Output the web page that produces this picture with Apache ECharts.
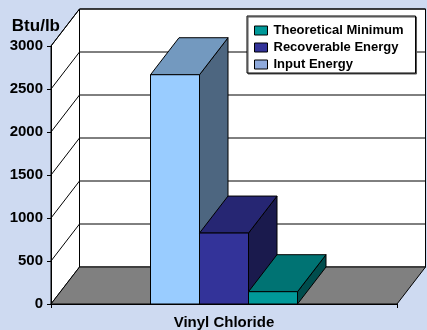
<!DOCTYPE html>
<html>
<head>
<meta charset="utf-8">
<script src="https://cdn.jsdelivr.net/npm/echarts@6/dist/echarts.min.js"></script>
<style>
	html, body { margin: 0; padding: 0; background: #CEDAF1; }
	#chart { width: 427px; height: 330px; }
</style>
</head>
<body>
<div id="chart"></div>
<script type="text/javascript">
	var categories = ['Vinyl Chloride'];
	var yTicks = [0, 500, 1000, 1500, 2000, 2500, 3000];
	var inputEnergy = [2666];
	var recoverableEnergy = [825];
	var theoreticalMinimum = [143];

	// fake 3d: how far the back plane sits from the front plane
	var depthX = 28.5;
	var depthY = 37;
	var barWidth = 49;

	var myChart = echarts.init(document.getElementById('chart'));

	function poly(points, fill) {
		return {
			type: 'polygon',
			shape: { points: points },
			style: { fill: fill, stroke: '#000', lineWidth: 1 }
		};
	}

	// walls, floor and the grid lines running round them
	function renderWalls(params, api) {
		var x0 = params.coordSys.x;
		var x1 = x0 + params.coordSys.width;
		var y0 = api.coord([0, 0])[1];
		var yTop = api.coord([0, 3000])[1];
		var kids = [
			poly([[x0 + depthX, yTop - depthY], [x1 + depthX, yTop - depthY], [x1 + depthX, y0 - depthY], [x0 + depthX, y0 - depthY]], '#fff'),
			poly([[x0, yTop], [x0 + depthX, yTop - depthY], [x0 + depthX, y0 - depthY], [x0, y0]], '#fff'),
			poly([[x0, y0], [x0 + depthX, y0 - depthY], [x1 + depthX, y0 - depthY], [x1, y0]], '#808080')
		];
		yTicks.forEach(function (t) {
			if (t == 0) return;
			var y = api.coord([0, t])[1];
			kids.push({
				type: 'polyline',
				shape: { points: [[x0, y], [x0 + depthX, y - depthY], [x1 + depthX, y - depthY]] },
				style: { fill: null, stroke: '#000', lineWidth: 1 }
			});
		});
		return { type: 'group', children: kids };
	}

	// slot: -1 left, 0 middle, 1 right of the category centre
	function barRenderer(slot, front, top, side) {
		return function (params, api) {
			var p = api.coord([api.value(0), api.value(1)]);
			var y0 = api.coord([api.value(0), 0])[1];
			var l = p[0] + (slot - 0.5) * barWidth;
			var r = l + barWidth;
			var t = p[1];
			return {
				type: 'group',
				children: [
					poly([[r, t], [r + depthX, t - depthY], [r + depthX, y0 - depthY], [r, y0]], side),
					poly([[l, t], [l + depthX, t - depthY], [r + depthX, t - depthY], [r, t]], top),
					poly([[l, t], [r, t], [r, y0], [l, y0]], front)
				]
			};
		};
	}

	function barSeries(name, values, slot, front, top, side) {
		return {
			name: name,
			type: 'custom',
			z: 3,
			silent: true,
			clip: false,
			itemStyle: { color: front },
			renderItem: barRenderer(slot, front, top, side),
			encode: { x: 0, y: 1 },
			data: values.map(function (v, i) { return [categories[i], v]; })
		};
	}

	var option = {
		animation: false,
		backgroundColor: '#CEDAF1',
		textStyle: { fontFamily: 'Liberation Sans' },
		grid: { left: 51, top: 46, width: 346, height: 258, containLabel: false },
		legend: {
			left: 247,
			top: 16,
			z: 10,
			orient: 'vertical',
			align: 'left',
			backgroundColor: '#fff',
			borderColor: '#000',
			borderWidth: 1,
			shadowColor: '#555',
			shadowOffsetX: 1,
			shadowOffsetY: 1,
			padding: [8, 12, 2, 7],
			itemWidth: 13,
			itemHeight: 9,
			itemGap: 4,
			textStyle: { color: '#000', fontSize: 13, fontWeight: 'bold', fontFamily: 'Liberation Sans', padding: [0, 0, 0, 1] },
			data: [
				{ name: 'Theoretical Minimum', icon: 'rect', itemStyle: { color: '#009999', borderColor: '#000', borderWidth: 1 } },
				{ name: 'Recoverable Energy', icon: 'rect', itemStyle: { color: '#333399', borderColor: '#000', borderWidth: 1 } },
				{ name: 'Input Energy', icon: 'rect', itemStyle: { color: '#8FAADC', borderColor: '#000', borderWidth: 1 } }
			]
		},
		xAxis: {
			type: 'category',
			data: categories,
			z: 5,
			axisLine: { lineStyle: { color: '#000', width: 1 } },
			axisTick: { show: true, length: 4, lineStyle: { color: '#000' } },
			axisLabel: { color: '#000', fontSize: 15, fontWeight: 'bold', margin: 11 }
		},
		yAxis: {
			type: 'value',
			min: 0,
			max: 3000,
			interval: 500,
			z: 5,
			name: 'Btu/lb',
			nameLocation: 'end',
			nameGap: 11,
			nameTextStyle: { color: '#000', fontSize: 17, fontWeight: 'bold', align: 'right', padding: [0, -9, 0, 0] },
			splitLine: { show: false },
			axisLine: { show: true, lineStyle: { color: '#000', width: 1 } },
			axisTick: { show: true, length: 4, lineStyle: { color: '#000' } },
			axisLabel: {
				color: '#000',
				fontSize: 15,
				fontWeight: 'bold',
				margin: 8,
				padding: [2, 0, 0, 0],
				formatter: function (v) { return String(v); }
			}
		},
		series: [
			{
				type: 'custom',
				z: 1,
				silent: true,
				clip: false,
				renderItem: renderWalls,
				encode: { x: 0, y: 1 },
				data: [[categories[0], 0]]
			},
			barSeries('Input Energy', inputEnergy, -1, '#99CCFF', '#7399BF', '#4D6680'),
			barSeries('Recoverable Energy', recoverableEnergy, 0, '#333399', '#262673', '#1A1A4D'),
			barSeries('Theoretical Minimum', theoreticalMinimum, 1, '#009999', '#007373', '#004D4D')
		]
	};

	myChart.setOption(option);
</script>
</body>
</html>
